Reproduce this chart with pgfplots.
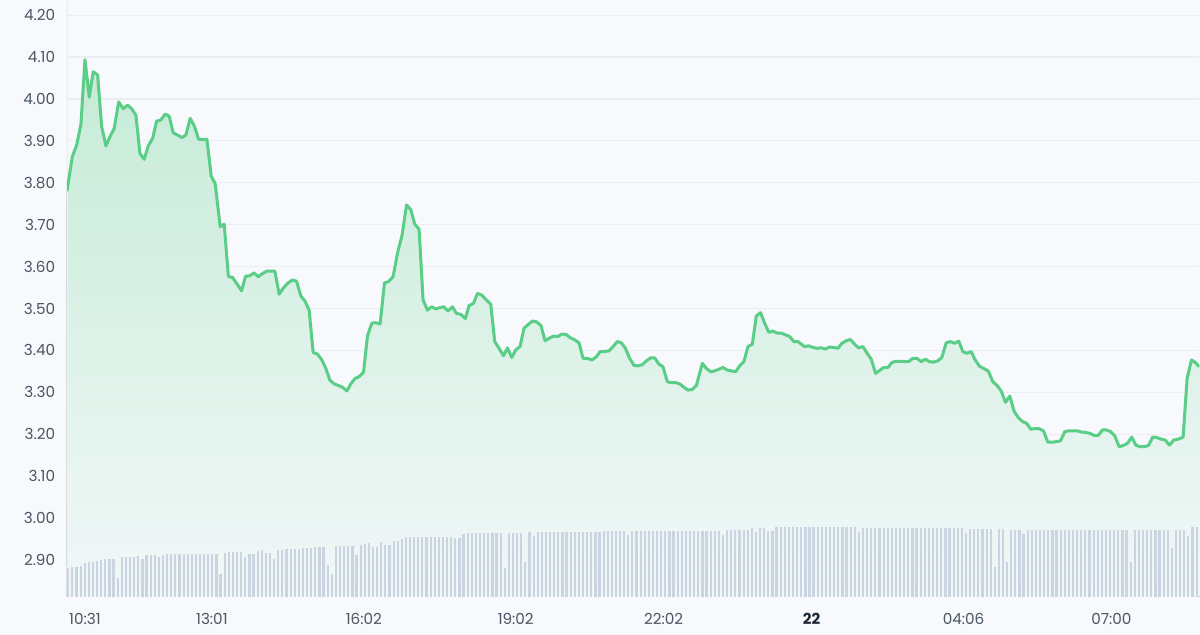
\documentclass[border=0pt]{standalone}
\usepackage{fontspec}
\setmainfont{Poppins}
\usepackage{pgfplots}
\pgfplotsset{compat=1.18}
\usepgfplotslibrary{fillbetween}

\definecolor{bg}{HTML}{F7F9FC}
\definecolor{gridc}{HTML}{EAEEF4}
\definecolor{barc}{HTML}{CBD5E1}
\definecolor{linec}{HTML}{5ACD86}
\definecolor{labc}{HTML}{4B5563}
\definecolor{darkc}{HTML}{1F2937}
\pagecolor{bg}

\begin{document}
\begin{tikzpicture}
% picture size (1 px = 0.5 pt)
\path (-33.5pt,-19pt) rectangle (566.5pt,298.5pt);
\begin{axis}[
  scale only axis,
  width=566.5pt, height=298.5pt,
  xmin=67, xmax=1200,
  ymin=2.8116, ymax=4.2358,
  axis line style={draw=none},
  major tick length=0pt,
  ymajorgrids,
  major grid style={gridc, line width=0.6pt},
  ytick={2.9,3.0,3.1,3.2,3.3,3.4,3.5,3.6,3.7,3.8,3.9,4.0,4.1,4.2},
  /pgf/number format/fixed,
  /pgf/number format/fixed zerofill,
  /pgf/number format/precision=2,
  /pgf/number format/assume math mode=true,
  yticklabel style={font=\fontsize{7.6}{8}\selectfont, text=labc, xshift=-2.4pt},
  xtick={85,212,364,516,664,812,964,1112},
  xticklabels={10:31,13:01,16:02,19:02,22:02,{\color{darkc}\bfseries 22},04:06,07:00},
  xticklabel style={font=\fontsize{7.6}{8}\selectfont, text=labc, yshift=-4.6pt},
]
\draw[gridc, line width=0.6pt] (rel axis cs:0,0) -- (rel axis cs:0,1);

\addplot[name path=price, draw=none, forget plot] coordinates {
(67,3.78) (72.3,3.862) (76.7,3.89) (81,3.94) (85,4.094) (89.3,4.004) (93.3,4.065) (97.7,4.057) (101.7,3.934) (106,3.888)
(110,3.91) (114.3,3.93) (118.7,3.993) (123.3,3.977) (127.7,3.985) (131.7,3.977) (136,3.961) (140,3.87) (144.3,3.856) (148.3,3.888)
(152.7,3.906) (156.7,3.947) (161,3.95) (165.3,3.964) (169.3,3.959) (173.3,3.919) (177.7,3.914) (182,3.908) (186,3.914) (190.3,3.954)
(194.7,3.934) (198.7,3.904) (203,3.903) (207,3.904) (211.3,3.816) (215.3,3.798) (220.3,3.695) (224.3,3.701) (228.5,3.576) (232.7,3.574)
(241.7,3.542) (245.7,3.577) (250,3.578) (254,3.585) (258.3,3.576) (262.5,3.583) (266.7,3.589) (271,3.589) (275,3.589) (279.3,3.534)
(283.3,3.548) (287.7,3.56) (292.7,3.568) (296.7,3.565) (301,3.53) (305,3.518) (309.3,3.496) (313.3,3.395) (317.7,3.391) (322,3.377)
(326,3.357) (330,3.329) (334.3,3.32) (338.7,3.316) (342.7,3.312) (347,3.303) (351,3.32) (355.3,3.333) (359.3,3.337) (363.7,3.348)
(367.7,3.435) (372,3.465) (376,3.466) (380.3,3.463) (384.7,3.561) (388.7,3.564) (393.3,3.576) (397.7,3.632) (402.3,3.675) (406.7,3.747)
(411,3.736) (415,3.701) (419.3,3.689) (423.3,3.52) (427.7,3.496) (431.7,3.504) (436,3.499) (440,3.502) (444,3.504) (448.3,3.494)
(452.7,3.504) (456.7,3.488) (461,3.486) (465.7,3.476) (469.3,3.507) (473.7,3.512) (477.7,3.536) (482,3.532) (486.7,3.52) (491,3.51)
(495,3.421) (499.3,3.405) (503.7,3.387) (507.7,3.406) (512,3.383) (516,3.401) (520.3,3.409) (524.3,3.453) (528.7,3.462) (532.7,3.47)
(537,3.468) (541.3,3.459) (545.3,3.423) (549.7,3.429) (553.7,3.434) (558,3.433) (562.3,3.439) (566.3,3.438) (570.7,3.43) (575,3.425)
(579.3,3.418) (583.3,3.381) (587.7,3.381) (592.3,3.377) (596.3,3.384) (600.5,3.397) (605,3.397) (609.3,3.399) (613.3,3.409) (617.7,3.421)
(621.7,3.418) (625.7,3.405) (630,3.381) (634.3,3.364) (638.3,3.363) (642.7,3.366) (646.7,3.375) (651,3.382) (655,3.382) (659.3,3.367)
(663.3,3.361) (667.7,3.325) (671.7,3.323) (676,3.323) (680,3.32) (684.3,3.312) (688.3,3.305) (692.7,3.307) (696.7,3.316) (702.7,3.369)
(706.7,3.357) (711,3.349) (715,3.351) (719.3,3.355) (723.3,3.359) (727.7,3.353) (731.7,3.351) (736,3.349) (740,3.363) (744.3,3.373)
(748.3,3.409) (752.7,3.415) (756.7,3.482) (761,3.49) (765,3.465) (769.3,3.443) (773.3,3.446) (777.7,3.441) (781.7,3.441) (786,3.437)
(790,3.433) (794.3,3.421) (798.3,3.421) (805,3.409) (809,3.411) (813.3,3.407) (817.3,3.405) (821.7,3.406) (825.7,3.403) (830,3.408)
(834,3.407) (838.3,3.405) (842.3,3.417) (846.7,3.423) (850.7,3.426) (855,3.415) (859,3.406) (863.3,3.409) (867.3,3.394) (871.7,3.379)
(876,3.345) (880,3.352) (884,3.359) (888.3,3.359) (892.3,3.371) (896.7,3.374) (900.7,3.374) (905,3.373) (909,3.373) (913.3,3.381)
(917.3,3.381) (921.7,3.373) (925.7,3.379) (930,3.373) (934,3.372) (938.3,3.375) (942.3,3.383) (946.7,3.418) (950.7,3.421) (955,3.417)
(959.3,3.422) (963.3,3.397) (967.3,3.393) (971.7,3.397) (975.7,3.377) (980,3.362) (984,3.357) (988.7,3.351) (993.3,3.325) (997.3,3.317)
(1001.7,3.303) (1006,3.276) (1010.3,3.291) (1014.7,3.254) (1018.7,3.24) (1023,3.23) (1027,3.226) (1031.3,3.212) (1035.3,3.213) (1039.7,3.213)
(1044,3.208) (1048.3,3.181) (1052.7,3.181) (1056.7,3.182) (1061,3.184) (1065.3,3.206) (1069.3,3.208) (1073.7,3.208) (1078,3.208) (1082,3.205)
(1086.3,3.204) (1090.3,3.202) (1094.7,3.197) (1098.7,3.197) (1103,3.21) (1107,3.21) (1111.3,3.206) (1115.3,3.196) (1119.7,3.17) (1123.7,3.173)
(1128,3.178) (1132.3,3.193) (1136.3,3.174) (1140.7,3.17) (1144.7,3.17) (1149,3.173) (1153.3,3.193) (1157.3,3.192) (1161.7,3.188) (1165.7,3.186)
(1170,3.174) (1174.3,3.186) (1178.7,3.188) (1183.7,3.193) (1187.7,3.333) (1192,3.377) (1196,3.371) (1200,3.361)
};
\path[name path=base] (axis cs:67,2.8116) -- (axis cs:1200,2.8116);
\addplot[top color=linec!32!bg, bottom color=linec!3!bg, draw=none] fill between[of=price and base];

% volume bars
\addplot[ycomb, barc, line width=1.1pt, mark=none] coordinates {
(68.3,2.880) (72.4,2.882) (76.5,2.884) (80.7,2.886) (84.8,2.892) (88.9,2.894) (93.0,2.895) (97.1,2.897) (101.3,2.900) (105.4,2.901)
(109.5,2.902) (113.6,2.902) (117.7,2.856) (121.9,2.906) (126.0,2.907) (130.1,2.908) (134.2,2.908) (138.3,2.910) (142.5,2.902) (146.6,2.911)
(150.7,2.912) (154.8,2.912) (158.9,2.906) (163.1,2.912) (167.2,2.913) (171.3,2.914) (175.4,2.914) (179.5,2.914) (183.7,2.914) (187.8,2.914)
(191.9,2.914) (196.0,2.914) (200.1,2.914) (204.3,2.914) (208.4,2.914) (212.5,2.914) (216.6,2.914) (220.7,2.866) (224.9,2.916) (229.0,2.918)
(233.1,2.918) (237.2,2.918) (241.3,2.918) (245.5,2.906) (249.6,2.915) (253.7,2.915) (257.8,2.922) (261.9,2.924) (266.1,2.916) (270.2,2.917)
(274.3,2.902) (278.4,2.924) (282.5,2.924) (286.7,2.926) (290.8,2.926) (294.9,2.926) (299.0,2.926) (303.1,2.928) (307.3,2.928) (311.4,2.928)
(315.5,2.930) (319.6,2.930) (323.7,2.930) (327.9,2.888) (332.0,2.866) (336.1,2.934) (340.2,2.934) (344.3,2.934) (348.5,2.934) (352.6,2.934)
(356.7,2.912) (360.8,2.936) (364.9,2.937) (369.1,2.940) (373.2,2.930) (377.3,2.930) (381.4,2.942) (385.5,2.936) (389.7,2.936) (393.8,2.944)
(397.9,2.946) (402.0,2.949) (406.1,2.954) (410.3,2.954) (414.4,2.954) (418.5,2.954) (422.6,2.954) (426.7,2.954) (430.9,2.954) (435.0,2.954)
(439.1,2.954) (443.2,2.954) (447.3,2.954) (451.5,2.954) (455.6,2.951) (459.7,2.953) (463.8,2.962) (467.9,2.964) (472.1,2.964) (476.2,2.964)
(480.3,2.964) (484.4,2.964) (488.5,2.964) (492.7,2.964) (496.8,2.964) (500.9,2.964) (505.0,2.880) (509.1,2.964) (513.3,2.964) (517.4,2.964)
(521.5,2.964) (525.6,2.894) (529.7,2.966) (533.9,2.956) (538.0,2.966) (542.1,2.966) (546.2,2.966) (550.3,2.966) (554.5,2.966) (558.6,2.966)
(562.7,2.966) (566.8,2.966) (570.9,2.966) (575.1,2.966) (579.2,2.966) (583.3,2.966) (587.4,2.966) (591.5,2.966) (595.7,2.966) (599.8,2.966)
(603.9,2.970) (608.0,2.970) (612.1,2.970) (616.3,2.970) (620.4,2.970) (624.5,2.970) (628.6,2.959) (632.7,2.970) (636.9,2.970) (641.0,2.970)
(645.1,2.970) (649.2,2.970) (653.3,2.970) (657.5,2.970) (661.6,2.970) (665.7,2.970) (669.8,2.970) (673.9,2.970) (678.1,2.970) (682.2,2.970)
(686.3,2.970) (690.4,2.970) (694.5,2.970) (698.7,2.970) (702.8,2.970) (706.9,2.970) (711.0,2.970) (715.1,2.970) (719.3,2.970) (723.4,2.959)
(727.5,2.971) (731.6,2.971) (735.7,2.971) (739.9,2.971) (744.0,2.971) (748.1,2.971) (752.2,2.975) (756.3,2.966) (760.5,2.976) (764.6,2.975)
(768.7,2.968) (772.8,2.968) (776.9,2.979) (781.1,2.979) (785.2,2.979) (789.3,2.979) (793.4,2.979) (797.5,2.979) (801.7,2.979) (805.8,2.979)
(809.9,2.979) (814.0,2.979) (818.1,2.979) (822.3,2.979) (826.4,2.979) (830.5,2.979) (834.6,2.979) (838.7,2.979) (842.9,2.979) (847.0,2.979)
(851.1,2.979) (855.2,2.979) (859.3,2.966) (863.5,2.977) (867.6,2.977) (871.7,2.977) (875.8,2.977) (879.9,2.977) (884.1,2.977) (888.2,2.977)
(892.3,2.977) (896.4,2.977) (900.5,2.977) (904.7,2.977) (908.8,2.977) (912.9,2.977) (917.0,2.977) (921.1,2.977) (925.3,2.977) (929.4,2.977)
(933.5,2.977) (937.6,2.977) (941.7,2.977) (945.9,2.977) (950.0,2.977) (954.1,2.977) (958.2,2.977) (962.3,2.977) (966.5,2.965) (970.6,2.973)
(974.7,2.973) (978.8,2.973) (982.9,2.973) (987.1,2.973) (991.2,2.973) (995.3,2.883) (999.4,2.973) (1003.5,2.973) (1007.7,2.894) (1011.8,2.971)
(1015.9,2.971) (1020.0,2.971) (1024.1,2.962) (1028.3,2.971) (1032.4,2.971) (1036.5,2.971) (1040.6,2.971) (1044.7,2.971) (1048.9,2.971) (1053.0,2.971)
(1057.1,2.971) (1061.2,2.971) (1065.3,2.971) (1069.5,2.971) (1073.6,2.971) (1077.7,2.971) (1081.8,2.971) (1085.9,2.971) (1090.1,2.971) (1094.2,2.971)
(1098.3,2.971) (1102.4,2.971) (1106.5,2.971) (1110.7,2.971) (1114.8,2.971) (1118.9,2.971) (1123.0,2.971) (1127.1,2.971) (1131.3,2.894) (1135.4,2.971)
(1139.5,2.971) (1143.6,2.971) (1147.7,2.971) (1151.9,2.971) (1156.0,2.971) (1160.1,2.971) (1164.2,2.971) (1168.3,2.971) (1172.5,2.928) (1176.6,2.971)
(1180.7,2.972) (1184.8,2.971) (1188.9,2.956) (1193.1,2.979) (1197.2,2.979)
};

% price line (same values as the fill boundary)
\addplot[linec, line width=1.5pt, line join=round, mark=none] coordinates {
(67,3.78) (72.3,3.862) (76.7,3.89) (81,3.94) (85,4.094) (89.3,4.004) (93.3,4.065) (97.7,4.057) (101.7,3.934) (106,3.888)
(110,3.91) (114.3,3.93) (118.7,3.993) (123.3,3.977) (127.7,3.985) (131.7,3.977) (136,3.961) (140,3.87) (144.3,3.856) (148.3,3.888)
(152.7,3.906) (156.7,3.947) (161,3.95) (165.3,3.964) (169.3,3.959) (173.3,3.919) (177.7,3.914) (182,3.908) (186,3.914) (190.3,3.954)
(194.7,3.934) (198.7,3.904) (203,3.903) (207,3.904) (211.3,3.816) (215.3,3.798) (220.3,3.695) (224.3,3.701) (228.5,3.576) (232.7,3.574)
(241.7,3.542) (245.7,3.577) (250,3.578) (254,3.585) (258.3,3.576) (262.5,3.583) (266.7,3.589) (271,3.589) (275,3.589) (279.3,3.534)
(283.3,3.548) (287.7,3.56) (292.7,3.568) (296.7,3.565) (301,3.53) (305,3.518) (309.3,3.496) (313.3,3.395) (317.7,3.391) (322,3.377)
(326,3.357) (330,3.329) (334.3,3.32) (338.7,3.316) (342.7,3.312) (347,3.303) (351,3.32) (355.3,3.333) (359.3,3.337) (363.7,3.348)
(367.7,3.435) (372,3.465) (376,3.466) (380.3,3.463) (384.7,3.561) (388.7,3.564) (393.3,3.576) (397.7,3.632) (402.3,3.675) (406.7,3.747)
(411,3.736) (415,3.701) (419.3,3.689) (423.3,3.52) (427.7,3.496) (431.7,3.504) (436,3.499) (440,3.502) (444,3.504) (448.3,3.494)
(452.7,3.504) (456.7,3.488) (461,3.486) (465.7,3.476) (469.3,3.507) (473.7,3.512) (477.7,3.536) (482,3.532) (486.7,3.52) (491,3.51)
(495,3.421) (499.3,3.405) (503.7,3.387) (507.7,3.406) (512,3.383) (516,3.401) (520.3,3.409) (524.3,3.453) (528.7,3.462) (532.7,3.47)
(537,3.468) (541.3,3.459) (545.3,3.423) (549.7,3.429) (553.7,3.434) (558,3.433) (562.3,3.439) (566.3,3.438) (570.7,3.43) (575,3.425)
(579.3,3.418) (583.3,3.381) (587.7,3.381) (592.3,3.377) (596.3,3.384) (600.5,3.397) (605,3.397) (609.3,3.399) (613.3,3.409) (617.7,3.421)
(621.7,3.418) (625.7,3.405) (630,3.381) (634.3,3.364) (638.3,3.363) (642.7,3.366) (646.7,3.375) (651,3.382) (655,3.382) (659.3,3.367)
(663.3,3.361) (667.7,3.325) (671.7,3.323) (676,3.323) (680,3.32) (684.3,3.312) (688.3,3.305) (692.7,3.307) (696.7,3.316) (702.7,3.369)
(706.7,3.357) (711,3.349) (715,3.351) (719.3,3.355) (723.3,3.359) (727.7,3.353) (731.7,3.351) (736,3.349) (740,3.363) (744.3,3.373)
(748.3,3.409) (752.7,3.415) (756.7,3.482) (761,3.49) (765,3.465) (769.3,3.443) (773.3,3.446) (777.7,3.441) (781.7,3.441) (786,3.437)
(790,3.433) (794.3,3.421) (798.3,3.421) (805,3.409) (809,3.411) (813.3,3.407) (817.3,3.405) (821.7,3.406) (825.7,3.403) (830,3.408)
(834,3.407) (838.3,3.405) (842.3,3.417) (846.7,3.423) (850.7,3.426) (855,3.415) (859,3.406) (863.3,3.409) (867.3,3.394) (871.7,3.379)
(876,3.345) (880,3.352) (884,3.359) (888.3,3.359) (892.3,3.371) (896.7,3.374) (900.7,3.374) (905,3.373) (909,3.373) (913.3,3.381)
(917.3,3.381) (921.7,3.373) (925.7,3.379) (930,3.373) (934,3.372) (938.3,3.375) (942.3,3.383) (946.7,3.418) (950.7,3.421) (955,3.417)
(959.3,3.422) (963.3,3.397) (967.3,3.393) (971.7,3.397) (975.7,3.377) (980,3.362) (984,3.357) (988.7,3.351) (993.3,3.325) (997.3,3.317)
(1001.7,3.303) (1006,3.276) (1010.3,3.291) (1014.7,3.254) (1018.7,3.24) (1023,3.23) (1027,3.226) (1031.3,3.212) (1035.3,3.213) (1039.7,3.213)
(1044,3.208) (1048.3,3.181) (1052.7,3.181) (1056.7,3.182) (1061,3.184) (1065.3,3.206) (1069.3,3.208) (1073.7,3.208) (1078,3.208) (1082,3.205)
(1086.3,3.204) (1090.3,3.202) (1094.7,3.197) (1098.7,3.197) (1103,3.21) (1107,3.21) (1111.3,3.206) (1115.3,3.196) (1119.7,3.17) (1123.7,3.173)
(1128,3.178) (1132.3,3.193) (1136.3,3.174) (1140.7,3.17) (1144.7,3.17) (1149,3.173) (1153.3,3.193) (1157.3,3.192) (1161.7,3.188) (1165.7,3.186)
(1170,3.174) (1174.3,3.186) (1178.7,3.188) (1183.7,3.193) (1187.7,3.333) (1192,3.377) (1196,3.371) (1200,3.361)
};
\end{axis}
\end{tikzpicture}
\end{document}
